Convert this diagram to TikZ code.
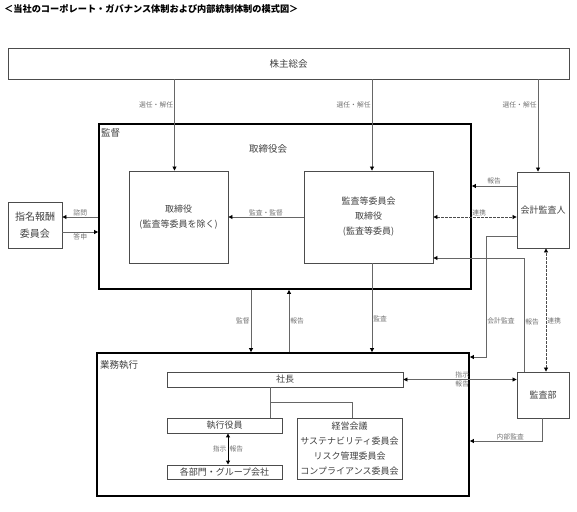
\documentclass[tikz,border=0pt]{standalone}
\usepackage{fontspec}
\setmainfont{Noto Sans CJK JP}
\usetikzlibrary{arrows.meta, positioning}

\begin{document}
\begin{tikzpicture}[
    x=1pt, y=-1pt,
    box/.style={draw=black!70, line width=0.9pt, align=center, inner sep=0pt, text=black!75, font=\fontsize{9}{15}\selectfont},
    frame/.style={draw=black, line width=1.8pt, inner sep=0pt},
    arrow/.style={-{Triangle[length=4pt, width=4pt, color=black]}, draw=black!60, line width=0.8pt},
    both/.style={{Triangle[length=4pt, width=4pt, color=black]}-{Triangle[length=4pt, width=4pt, color=black]}, draw=black!60, line width=0.8pt},
    link/.style={both, dash pattern=on 2.5pt off 1.5pt, draw=black!70},
    branch/.style={draw=black!60, line width=0.8pt},
    note/.style={font=\fontsize{6.8}{7}\selectfont, text=black!55, inner sep=1pt},
    heading/.style={font=\fontsize{9.5}{11}\selectfont, text=black!75, inner sep=0pt}
]
\useasboundingbox (0,0) rectangle (577,511);

% Title
\node[anchor=west, inner sep=0pt, font=\bfseries\fontsize{9.2}{11}\selectfont] (title) at (4,9) {＜当社のコーポレート・ガバナンス体制および内部統制体制の模式図＞};

% Shareholders meeting
\node[box, minimum width=561pt, minimum height=31pt, font=\fontsize{9.5}{11}\selectfont] (sh) at (288.5,63.5) {株主総会};

% Supervision
\node[frame, minimum width=372pt, minimum height=165pt] (kantoku) at (285,206.5) {};
\node[heading, anchor=west] (kantokuTitle) at (101,133) {監督};
\node[heading] (torikai) at (268,149) {取締役会};
\node[box, minimum width=99pt, minimum height=92pt] (tori) at (178.5,217) {取締役\\(監査等委員を除く)};
\node[box, minimum width=129pt, minimum height=92pt] (kansa) at (368.5,217) {監査等委員会\\取締役\\(監査等委員)};
\node[box, minimum width=52pt, minimum height=76pt] (kaikei) at (543,210) {会計監査人};
\node[box, minimum width=54pt, minimum height=46pt, font=\fontsize{10}{17}\selectfont] (shimei) at (35,225) {指名報酬\\委員会};

% Business execution
\node[frame, minimum width=372pt, minimum height=143pt] (gyomu) at (283,424.5) {};
\node[heading, anchor=west] (gyomuTitle) at (100,365) {業務執行};
\node[box, minimum width=236pt, minimum height=15pt] (shacho) at (285,379.5) {社長};
\node[box, minimum width=115pt, minimum height=15pt] (shikko) at (224.5,425.5) {執行役員};
\node[box, minimum width=115pt, minimum height=14pt] (bumon) at (224.5,472) {各部門・グループ会社};
\node[box, minimum width=105pt, minimum height=61pt] (keiei) at (349.5,448.5) {経営会議\\サステナビリティ委員会\\リスク管理委員会\\コンプライアンス委員会};
\node[box, minimum width=52pt, minimum height=46pt] (kansabu) at (543,395) {監査部};

% Line positions
\coordinate (xTori) at (174.5,0);
\coordinate (xKansa) at (372,0);
\coordinate (xKaikei) at (538,0);
\coordinate (xDown) at (251,0);
\coordinate (xUp) at (289,0);
\coordinate (xAudit) at (486,0);
\coordinate (xReport) at (524,0);
\coordinate (xDash) at (546,0);
\coordinate (xInner) at (542,0);
\coordinate (xTree) at (270,0);
\coordinate (xKeiei) at (352,0);
\coordinate (xOrder) at (228,0);
\coordinate (yConsult) at (0,217);
\coordinate (yAnswer) at (0,232);
\coordinate (yReport) at (0,186);
\coordinate (yAudit) at (0,236);
\coordinate (yAuditIn) at (0,357);
\coordinate (yReportUp) at (0,258);
\coordinate (yInner) at (0,441);
\coordinate (yTree) at (0,402);

% Election / dismissal
\draw[arrow] (sh.south -| xTori) -- node[note, anchor=east, pos=0.28] {選任・解任} (tori.north -| xTori);
\draw[arrow] (sh.south -| xKansa) -- node[note, anchor=east, pos=0.28] {選任・解任} (kansa.north -| xKansa);
\draw[arrow] (sh.south -| xKaikei) -- node[note, anchor=east, pos=0.28] {選任・解任} (kaikei.north -| xKaikei);

% Inside the board
\draw[arrow] (kansa.west) -- node[note, above] {監査・監督} (tori.east);
\draw[arrow] (kantoku.west |- yConsult) -- node[note, above] {諮問} (shimei.east |- yConsult);
\draw[arrow] (shimei.east |- yAnswer) -- node[note, below] {答申} (kantoku.west |- yAnswer);
\draw[arrow] (kaikei.west |- yReport) -- node[note, above] {報告} (kantoku.east |- yReport);
\draw[link] (kansa.east |- yConsult) -- node[note, above, pos=0.55] {連携} (kaikei.west |- yConsult);

% Auditors
\draw[arrow] (kaikei.west |- yAudit) -| node[note, anchor=west, pos=0.85] {会計監査} (xAudit |- yAuditIn) -- (gyomu.east |- yAuditIn);
\draw[arrow] (kansabu.north -| xReport) |- node[note, anchor=west, pos=0.22] {報告} (kansa.east |- yReportUp);
\draw[link] (kansabu.north -| xDash) -- node[note, anchor=west, pos=0.41] {連携} (kaikei.south -| xDash);
\draw[both] (shacho.east) -- node[note, above, pos=0.52] {指示} node[note, below, pos=0.52] {報告} (kansabu.west |- shacho.east);
\draw[arrow] (kansabu.south -| xInner) |- node[note, above, pos=0.72] {内部監査} (gyomu.east |- yInner);

% Between supervision and execution
\draw[arrow] (kantoku.south -| xDown) -- node[note, anchor=east] {監督} (gyomu.north -| xDown);
\draw[arrow] (gyomu.north -| xUp) -- node[note, anchor=west] {報告} (kantoku.south -| xUp);
\draw[arrow] (kansa.south -| xKansa) -- node[note, anchor=west, pos=0.63] {監査} (gyomu.north -| xKansa);

% Execution tree
\draw[branch] (shacho.south -| xTree) -- (shikko.north -| xTree);
\draw[branch] (xTree |- yTree) -| (keiei.north -| xKeiei);
\draw[both, draw=black, line width=1pt] (shikko.south -| xOrder) -- node[note, anchor=east] {指示} node[note, anchor=west] {報告} (bumon.north -| xOrder);

\end{tikzpicture}
\end{document}
